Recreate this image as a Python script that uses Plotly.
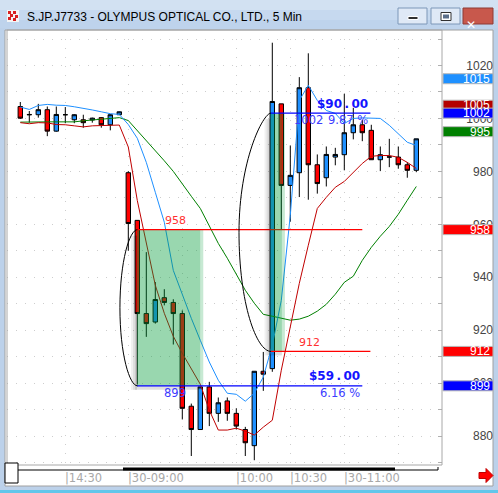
import plotly.graph_objects as go

# ---- 5-minute bars -------------------------------------------------------
bar_time = ["14:05", "14:10", "14:15", "14:20", "14:25", "14:30", "14:35", "14:40",
            "14:45", "14:50", "14:55", "15:00",
            "09:00", "09:05", "09:10", "09:15", "09:20", "09:25", "09:30", "09:35",
            "09:40", "09:45", "09:50", "09:55", "10:00", "10:05", "10:10", "10:15",
            "10:20", "10:25", "10:30", "10:35", "10:40", "10:45", "10:50", "10:55",
            "11:00", "11:05", "11:10", "11:15", "11:20", "11:25", "11:30", "11:35",
            "11:40"]
open_ = [1004.5, 1001.5, 1001.4, 1003.3, 995.2, 1001.4, 999.5, 999.5, 999.4, 1000.3,
         997.6, 1001.4, 979.5, 961.5, 926.3, 923.1, 932.3, 930.5, 926.3, 891.3,
         882.5, 898.6, 888.6, 893.3, 888.6, 882.5, 876.4, 904.5, 905.5, 1005.5,
         974.7, 979.5, 1011.6, 982.5, 977.6, 985.4, 986.3, 994.6, 997.6, 995.5,
         984.4, 985.5, 985.4, 982.5, 980.4]
high = [1006.2, 1002.8, 1005.5, 1004.5, 1004.5, 1004.3, 1001.6, 1001.4, 1000.3, 1000.5,
        1001.6, 1002.6, 980.1, 961.6, 949.5, 938.2, 935.5, 931.7, 927.5, 892.3,
        898.6, 900.5, 894.6, 894.6, 890.5, 883.5, 904.5, 911.8, 1028.6, 1005.5,
        989.8, 1015.6, 1024.6, 986.4, 989.4, 988.9, 1009.3, 1004.0, 999.5, 997.6,
        989.4, 992.3, 989.4, 983.5, 992.3]
low = [999.8, 998.4, 1000.3, 993.3, 995.0, 998.2, 998.2, 996.5, 998.4, 996.5,
       995.5, 1001.3, 950.0, 899.5, 917.5, 922.5, 929.4, 914.6, 886.3, 872.5,
       882.5, 883.8, 885.4, 885.8, 882.5, 872.5, 870.9, 897.1, 904.3, 958.0,
       961.0, 970.3, 969.3, 971.6, 974.3, 982.3, 980.4, 992.1, 991.4, 984.4,
       980.1, 981.6, 981.0, 977.6, 979.7]
close = [1000.1, 1001.4, 1003.3, 995.2, 1001.5, 1001.4, 1001.4, 998.4, 1000.1, 997.6,
         1001.4, 1002.5, 960.3, 926.3, 922.5, 931.6, 930.5, 926.3, 890.5, 882.5,
         898.6, 888.6, 892.6, 888.6, 883.8, 877.5, 904.5, 903.4, 1006.4, 974.7,
         978.5, 1011.6, 982.5, 975.4, 986.4, 986.4, 994.6, 997.6, 994.6, 984.4,
         986.3, 985.4, 982.5, 980.4, 992.3]

# ---- moving averages -----------------------------------------------------
ma_blue = [1004.3, 1003.4, 1004.9, 1005.3, 1005.0, 1004.9, 1004.4, 1003.9, 1003.2, 1002.5,
           1001.8, 1001.5, 997.7, 992.5, 983.4, 972.1, 960.8, 942.6, 933.2, 924.5,
           916.2, 908.0, 901.1, 896.2, 895.8, 893.2, 896.2, 902.3, 914.3, 931.3,
           963.4, 1006.8, 1012.5, 1006.8, 1003.0, 1001.9, 998.1, 1000.0, 1000.2, 1000.2,
           1000.0, 997.4, 994.3, 991.0, 989.8]
ma_red = [998.4, 998.0, 998.4, 998.3, 997.7, 997.6, 997.2, 996.8, 997.2, 997.4,
          997.4, 997.5, 989.2, 969.0, 952.8, 937.0, 926.4, 917.7, 911.3, 905.7,
          899.6, 889.8, 882.3, 882.3, 883.0, 881.9, 880.4, 883.4, 886.0, 904.9,
          921.9, 937.7, 952.1, 966.0, 970.2, 974.0, 976.2, 979.6, 983.0, 985.7,
          986.0, 986.0, 985.3, 983.4, 981.1]
ma_green = [998.6, 998.7, 998.7, 998.7, 998.7, 998.7, 998.7, 999.1, 999.4, 999.8,
            1000.1, 1000.3, 999.2, 995.5, 991.7, 987.9, 984.0, 980.0, 975.5, 970.6,
            966.0, 959.6, 952.8, 947.2, 941.1, 935.1, 930.2, 926.0, 925.3, 924.5,
            923.8, 924.2, 925.3, 927.2, 929.8, 933.6, 938.1, 940.4, 946.4, 951.3,
            955.5, 959.2, 963.8, 969.1, 974.3]

# ---- axis labels ---------------------------------------------------------
price_ticks = [880, 900, 920, 940, 960, 980, 1000, 1020]
time_labels = ["14:30", "30-09:00", "10:00", "10:30", "30-11:00"]
time_label_bars = ["14:30", "09:00", "10:00", "10:30", "11:00"]
grid_bars = ["14:30", "09:00", "09:30", "10:00", "10:30", "11:00", "11:30"]

# ---- price badges on the right-hand scale --------------------------------
badge_values = [1015, 1005, 1002, 995, 958, 912, 899]
badge_colors = ["#1e90ff", "#b40000", "#0000ff", "#008000", "#ff0000", "#ff0000", "#0000ff"]

# ---- measured-move drawings ----------------------------------------------
move_start = [958, 912]
move_end = [899, 1002]
move_first_bar = [12.97, 27.8]
move_last_bar = [38.0, 38.9]
move_box_end_bar = [20.33, 29.4]
move_label_bar = [17.2, 32.0]
arc_width_bars = [1.95, 3.55]
arc_top_round = [0.45, 0.25]     # how round the arc is near its top end

# ---- page geometry ---------------------------------------------------------
W, H = 498, 493
ML, MR, MT, MB = 7, 5, 30, 28
PW, PH = W - ML - MR, H - MT - MB
PLOT_RIGHT = 442
X_RANGE = [-1.478, 46.856]
Y_RANGE = [869.1, 1033.4]
PX_X = (X_RANGE[1] - X_RANGE[0]) / (PLOT_RIGHT - ML)   # bars per pixel
PX_Y = (Y_RANGE[1] - Y_RANGE[0]) / PH                  # price per pixel


def fx(p):
    return (p - ML) / PW


def fy(p):
    return (H - MB - p) / PH


bars = list(range(len(bar_time)))
FONT = "DejaVu Sans"
SANS = "Liberation Sans"
GRID = "#cdcdcd"

fig = go.Figure()

fig.add_trace(go.Candlestick(
    x=bars, open=open_, high=high, low=low, close=close,
    increasing=dict(fillcolor="#1e90ff", line=dict(color="black", width=1)),
    decreasing=dict(fillcolor="#ff0000", line=dict(color="black", width=1)),
    whiskerwidth=0, showlegend=False, hoverinfo="skip",
))
for series, col in [(ma_green, "#008000"), (ma_red, "#c00000"), (ma_blue, "#1e90ff")]:
    fig.add_trace(go.Scatter(x=bars, y=series, mode="lines",
                             line=dict(color=col, width=1),
                             showlegend=False, hoverinfo="skip"))

shapes = []
annotations = []


def prect(x0, y0, x1, y1, fill, line=None, lw=0, layer="above"):
    shapes.append(dict(type="rect", xref="paper", yref="paper",
                       x0=fx(x0), x1=fx(x1), y0=fy(y0), y1=fy(y1),
                       fillcolor=fill, line=dict(color=line or fill, width=lw),
                       layer=layer))


# measured-move boxes, shadows, level lines and arcs
for k in range(len(move_start)):
    hi, lo = max(move_start[k], move_end[k]), min(move_start[k], move_end[k])
    x0, x1 = move_first_bar[k], move_box_end_bar[k]
    # soft shadow on the left edge and along the bottom
    for j, a in enumerate([0.22, 0.13, 0.06]):
        shapes.append(dict(type="rect", xref="x", yref="y",
                           x0=x0 - (j + 1) * 2 * PX_X, x1=x0 - j * 2 * PX_X,
                           y0=lo - 4 * PX_Y, y1=hi - 6 * PX_Y,
                           fillcolor=f"rgba(0,0,0,{a})", line=dict(width=0), layer="above"))
    shapes.append(dict(type="rect", xref="x", yref="y",
                       x0=x0, x1=x1 - 3 * PX_X, y0=lo - 4 * PX_Y, y1=lo,
                       fillcolor="rgba(0,0,0,0.12)", line=dict(width=0), layer="above"))
    shapes.append(dict(type="rect", xref="x", yref="y",
                       x0=x0, x1=x1 - 3 * PX_X, y0=lo, y1=hi,
                       fillcolor="rgba(0,155,55,0.40)", line=dict(width=0), layer="above"))
    shapes.append(dict(type="rect", xref="x", yref="y",
                       x0=x1 - 3 * PX_X, x1=x1, y0=lo, y1=hi,
                       fillcolor="rgba(0,155,55,0.22)", line=dict(width=0), layer="above"))
    # level lines
    shapes.append(dict(type="line", xref="x", yref="y",
                       x0=move_first_bar[k], x1=move_last_bar[k],
                       y0=move_start[k], y1=move_start[k],
                       line=dict(color="#ff0000", width=1.3), layer="above"))
    shapes.append(dict(type="line", xref="x", yref="y",
                       x0=move_first_bar[k], x1=move_last_bar[k],
                       y0=move_end[k], y1=move_end[k],
                       line=dict(color="#0000ff", width=1.3), layer="above"))
    # left half-ellipse marking the move
    cx = x0 + 0.05
    rx = arc_width_bars[k]
    rt = arc_top_round[k]
    cy = (hi + lo) / 2
    ry = (hi - lo) / 2
    path = (f"M {cx},{hi} C {cx - rt * rx},{hi} {cx - rx},{cy + 0.6 * ry} {cx - rx},{cy} "
            f"C {cx - rx},{cy - 0.6 * ry} {cx - 0.45 * rx},{lo} {cx},{lo}")
    shapes.append(dict(type="path", xref="x", yref="y", path=path,
                       line=dict(color="black", width=1), layer="above"))

    diff = abs(move_end[k] - move_start[k])
    pct = diff / move_start[k] * 100
    up = move_end[k] > move_start[k]
    # start level label above its line
    annotations.append(dict(x=move_label_bar[k] + (0.0 if not up else 0.15), y=move_start[k],
                            xref="x", yref="y", text=f"{move_start[k]}", showarrow=False,
                            yshift=9, font=dict(family=FONT, size=11, color="#ff3030")))
    # end level label below its line
    annotations.append(dict(x=move_label_bar[k], y=move_end[k], xref="x", yref="y",
                            text=f"{move_end[k]}", showarrow=False, yshift=-7,
                            font=dict(family=FONT, size=11.5, color="#3c3cff")))
    annotations.append(dict(x=move_last_bar[k], y=move_end[k], xref="x", yref="y",
                            text="$" + f"{diff:.2f}".replace(".", "\u2009.\u2009"),
                            showarrow=False, xanchor="right", yshift=9.5,
                            font=dict(family=FONT, size=12, color="#1414ff", weight="bold")))
    annotations.append(dict(x=move_last_bar[k], y=move_end[k], xref="x", yref="y",
                            text=f"{pct:.2f} %", showarrow=False, xanchor="right", yshift=-7,
                            font=dict(family=FONT, size=11.5, color="#3c3cff")))

# price badges
for v, c in zip(badge_values, badge_colors):
    shapes.append(dict(type="rect", xref="paper", yref="y",
                       x0=fx(443), x1=fx(493), y0=v - 5 * PX_Y, y1=v + 5 * PX_Y,
                       fillcolor=c, line=dict(color="#b8b8b8", width=1), layer="above"))
    annotations.append(dict(x=fx(491.5), y=v, xref="paper", yref="y", text=str(v),
                            showarrow=False, xanchor="right", yanchor="middle",
                            font=dict(family=SANS, size=12, color="white")))

# time labels under the chart
for lab, b in zip(time_labels, time_label_bars):
    annotations.append(dict(x=bar_time.index(b), y=fy(477.5), xref="x", yref="paper",
                            text="|" + lab, showarrow=False, xanchor="left", xshift=-2,
                            yanchor="middle",
                            font=dict(family=FONT, size=11.5, color="#a8a8a8")))

# ---- window chrome ---------------------------------------------------------
prect(0, 0, W, 10, "#d2e1f2", layer="below")
prect(0, 10, W, 20, "#c6d9ef", layer="below")
prect(0, 20, W, 30, "#bed3ec", layer="below")
prect(0, 28, 5, H, "#bcd1ea", layer="below")
prect(493, 28, W, H, "#bcd1ea", layer="below")
prect(0, 486, W, H, "#bcd1ea", layer="below")
prect(0, 490, W, H, "#62c6ea", layer="below")
prect(5, 30, 493, 486, "white", line="#a0a0a0", lw=1, layer="below")
# plot frame
shapes.append(dict(type="rect", xref="paper", yref="paper", x0=0, x1=fx(PLOT_RIGHT),
                   y0=0, y1=1, line=dict(color="#a8a8a8", width=1), layer="above"))

# title bar icon
prect(7, 10, 19, 22, "#f4f4f4", layer="above")
for (ix, iy) in [(8, 11), (13, 11), (10, 14), (15, 15), (8, 17), (13, 18)]:
    prect(ix, iy, ix + 3, iy + 3, "#d82020", layer="above")
annotations.append(dict(x=fx(25), y=fy(16.5), xref="paper", yref="paper",
                        text="S.JP.J7733 - OLYMPUS OPTICAL CO., LTD., 5 Min",
                        showarrow=False, xanchor="left", yanchor="middle",
                        font=dict(family=SANS, size=12, color="#000000")))
# caption buttons
prect(398, 8, 427, 24, "#dfe9f6", line="#7d97b8", lw=1)
prect(408, 16.5, 418, 19.5, "#303030", line="#ffffff", lw=1)
prect(431, 8, 460, 24, "#dfe9f6", line="#7d97b8", lw=1)
prect(441, 12.5, 451, 20.5, "#ffffff", line="#303030", lw=1)
prect(443, 14.5, 449, 18.5, "#5a6e8a")
prect(463, 8, 493, 24, "#c8584c", line="#8e3b34", lw=1)
annotations.append(dict(x=fx(478), y=fy(16), xref="paper", yref="paper", text="<b>✕</b>",
                        showarrow=False, font=dict(family=FONT, size=12, color="white")))

# scroll bar and scroll arrow
shapes.append(dict(type="line", xref="paper", yref="paper", x0=fx(18), x1=fx(438),
                   y0=fy(470), y1=fy(470), line=dict(color="black", width=1), layer="above"))
shapes.append(dict(type="line", xref="paper", yref="paper", x0=fx(438), x1=fx(438),
                   y0=fy(470), y1=fy(467), line=dict(color="black", width=1), layer="above"))
prect(123, 467.5, 395, 470.5, "black")
prect(5, 463, 18, 483, "white", line="black", lw=1)
arrow = [(479, 472.5), (486, 472.5), (486, 468.5), (493, 475.5), (486, 482.5), (486, 478.5), (479, 478.5)]
shapes.append(dict(type="path", xref="paper", yref="paper",
                   path="M " + " L ".join(f"{fx(a)},{fy(b)}" for a, b in arrow) + " Z",
                   fillcolor="#ff0000", line=dict(color="#c00000", width=1), layer="above"))

fig.update_layout(
    width=W, height=H,
    margin=dict(l=ML, r=MR, t=MT, b=MB),
    paper_bgcolor="white", plot_bgcolor="white",
    showlegend=False,
    xaxis=dict(domain=[0, fx(PLOT_RIGHT)], range=X_RANGE, rangeslider=dict(visible=False),
               tickmode="array", tickvals=[bar_time.index(t) for t in grid_bars],
               showticklabels=False, ticks="", showgrid=True, gridcolor=GRID,
               griddash="1px,8px", zeroline=False, showline=False, fixedrange=True),
    yaxis=dict(range=Y_RANGE, anchor="free", position=1.0, side="left",
               tickmode="array", tickvals=price_ticks, ticks="",
               tickfont=dict(family=SANS, size=12, color="#454545"),
               showgrid=False, zeroline=False, showline=False, fixedrange=True),
    yaxis2=dict(range=Y_RANGE, overlaying="y", anchor="x", side="right",
                tickmode="linear", tick0=880, dtick=10, showticklabels=False,
                ticks="inside", ticklen=4, tickcolor="#b0b0b0",
                showgrid=True, gridcolor=GRID, griddash="1px,8px",
                zeroline=False, showline=False, fixedrange=True),
    shapes=shapes,
    annotations=annotations,
)
# invisible trace so the grid/tick axis is drawn
fig.add_trace(go.Scatter(x=[bars[0]], y=[close[0]], yaxis="y2", mode="markers",
                         marker=dict(opacity=0), showlegend=False, hoverinfo="skip"))

fig.write_html("out.html")
